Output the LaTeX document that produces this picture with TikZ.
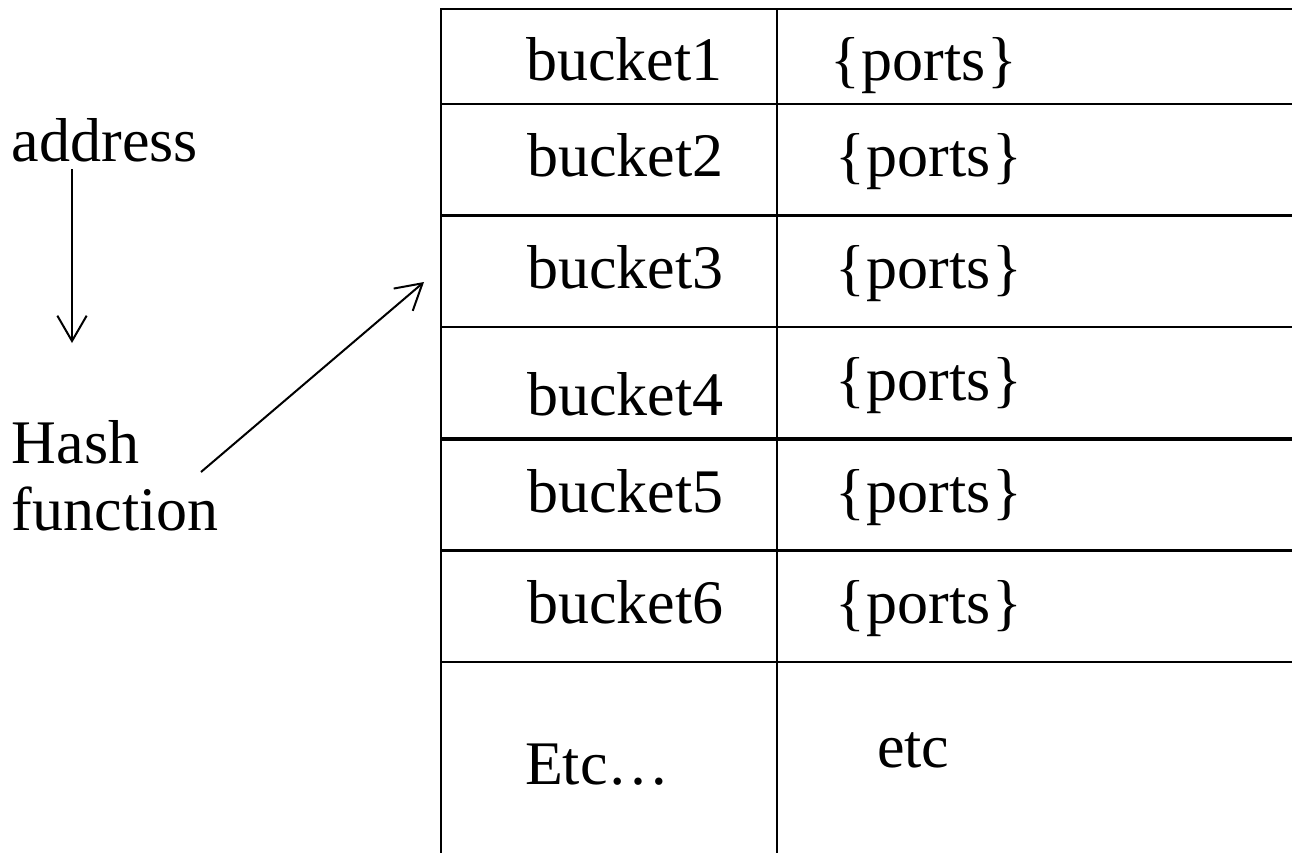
\documentclass[tikz,border=0pt]{standalone}
\usepackage{fontspec}
\setmainfont{Liberation Serif}
\usetikzlibrary{arrows.meta}
\newcommand{\portset}{\{\kern1.5pt ports\kern1.5pt\}}
\begin{document}
\begin{tikzpicture}[x=0.75pt,y=-0.75pt,
  lbl/.style={anchor=base west,inner sep=0pt,outer sep=0pt,
    font=\fontsize{46.5pt}{50pt}\selectfont},
  grid/.style={line width=1.8pt,line cap=rect},
  heavy/.style={line width=2.5pt},
  arr/.style={line width=1.5pt,-{Straight Barb[length=19pt,width=22pt,line width=1.5pt]}}]
\useasboundingbox (0,0) rectangle (1292,853);

% table frame: two columns, open at the right and at the bottom
\coordinate (tl) at (441,9);
\coordinate (tm) at (777,9);
\draw[grid] (441,853) -- (tl) -- (1300,9);
\draw[grid] (tm) -- (777,853);
\foreach \y in {104,215.5,327,550.5,662}
  \draw[grid] (441,\y) -- (1300,\y);
\draw[heavy] (441,439) -- (1300,439);

% bucket column
\node[lbl] (b1) at (526,80.5) {bucket1};
\node[lbl] (b2) at (527,176)  {bucket2};
\node[lbl] (b3) at (527,288)  {bucket3};
\node[lbl] (b4) at (527,415)  {bucket4};
\node[lbl] (b5) at (527,512)  {bucket5};
\node[lbl] (b6) at (527,623)  {bucket6};
\node[lbl] (b7) at (525,784)  {Etc…};

% port-set column
\node[lbl] (p1) at (830,80.5) {\portset};
\node[lbl] (p2) at (835,176)  {\portset};
\node[lbl] (p3) at (835,288)  {\portset};
\node[lbl] (p4) at (835,400)  {\portset};
\node[lbl] (p5) at (835,512)  {\portset};
\node[lbl] (p6) at (835,623)  {\portset};
\node[lbl] (p7) at (877,767)  {etc};

% input side
\node[lbl] (addr) at (12,161) {address};
\node[lbl] (hash) at (12,463) {Hash};
\node[lbl] (func) at (12,530) {function};

\coordinate (addrout) at (72,169);
\coordinate (hashin)  at (72,343);
\coordinate (hashout) at (201,472);
\coordinate (tablein) at (424,282);

\draw[arr] (addrout) -- (hashin);
\draw[arr] (hashout) -- (tablein);
\end{tikzpicture}
\end{document}
